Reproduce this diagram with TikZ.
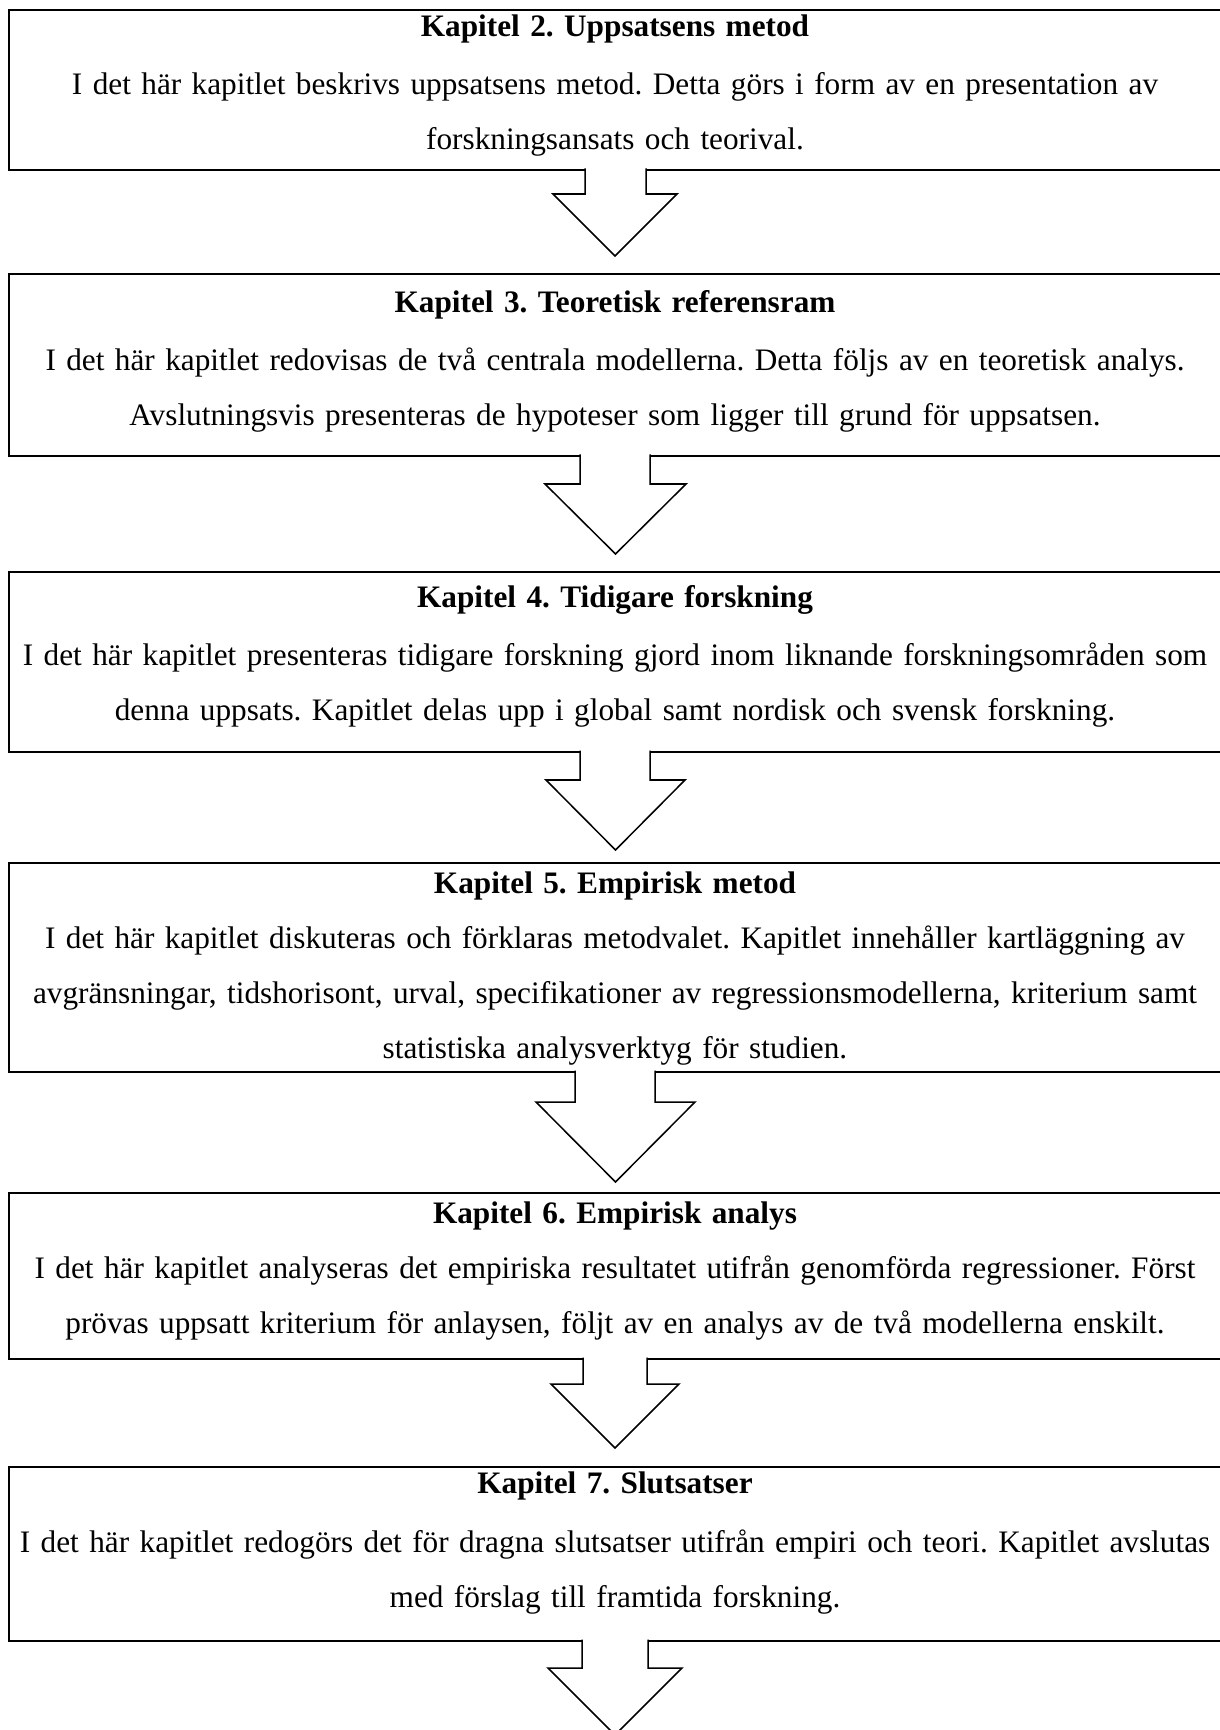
\documentclass[tikz,border=0pt]{standalone}
\usepackage{fontspec}
\setmainfont{Liberation Serif}
\frenchspacing
\newcommand{\pxu}{0.4286pt}

\begin{document}
\begin{tikzpicture}[x=\pxu, y=-\pxu,
      kbox/.style={draw, line width=0.9pt, anchor=north west, inner sep=0pt,
        outer sep=0pt, minimum width=1240*\pxu},
      ktext/.style={anchor=base, text width=560pt, align=center, inner sep=0pt,
        font=\fontsize{13.4pt}{23.6pt}\selectfont},
      karrow/.style={draw, fill=white, line width=0.65pt, line join=miter}]
      \fill[white] (0,0) rectangle (1220,1730);
      \clip (0,0) rectangle (1220,1730);
      % Chapter boxes
      \node[kbox, minimum height=160*\pxu] (k2) at (9,10) {};
      \node[kbox, minimum height=182*\pxu] (k3) at (9,274) {};
      \node[kbox, minimum height=180*\pxu] (k4) at (9,572) {};
      \node[kbox, minimum height=209*\pxu] (k5) at (9,863) {};
      \node[kbox, minimum height=166*\pxu] (k6) at (9,1193) {};
      \node[kbox, minimum height=174*\pxu] (k7) at (9,1467) {};
      % Texts
      \node[ktext] (t2) at (615,37) {\textbf{Kapitel 2. Uppsatsens metod}\\[1pt]
        I det här kapitlet beskrivs uppsatsens metod. Detta görs i form av en presentation av\\
        forskningsansats och teorival.};
      \node[ktext] (t3) at (615,313) {\textbf{Kapitel 3. Teoretisk referensram}\\[1pt]
        I det här kapitlet redovisas de två centrala modellerna. Detta följs av en teoretisk analys.\\
        Avslutningsvis presenteras de hypoteser som ligger till grund för uppsatsen.};
      \node[ktext] (t4) at (615,608) {\textbf{Kapitel 4. Tidigare forskning}\\[1pt]
        I det här kapitlet presenteras tidigare forskning gjord inom liknande forskningsområden som\\
        denna uppsats. Kapitlet delas upp i global samt nordisk och svensk forskning.};
      \node[ktext] (t5) at (615,893) {\textbf{Kapitel 5. Empirisk metod}\\
        I det här kapitlet diskuteras och förklaras metodvalet. Kapitlet innehåller kartläggning av\\
        avgränsningar, tidshorisont, urval, specifikationer av regressionsmodellerna, kriterium samt\\
        statistiska analysverktyg för studien.};
      \node[ktext] (t6) at (615,1223) {\textbf{Kapitel 6. Empirisk analys}\\
        I det här kapitlet analyseras det empiriska resultatet utifrån genomförda regressioner. Först\\
        prövas uppsatt kriterium för anlaysen, följt av en analys av de två modellerna enskilt.};
      \node[ktext] (t7) at (615,1493) {\textbf{Kapitel 7. Slutsatser}\\[1.7pt]
        I det här kapitlet redogörs det för dragna slutsatser utifrån empiri och teori. Kapitlet avslutas\\
        med förslag till framtida forskning.};
      % Block arrows below each box
      \foreach \k/\sl/\sr/\wl/\wr/\sh/\hh in {2/585/646/553/677/24/62,
          3/580/650/545/686/28/70, 4/580/650/546/685/28/70,
          5/575/655/536/695/30/80, 6/583/647/551/679/25/64,
          7/582/648/548/682/27/67}
        \draw[karrow] (\sl,0 |- k\k.south) ++(0,-1.5) -- ++(0,\sh+1.5)
          -- ++(\wl-\sl,0) -- ++({(\wr-\wl)/2},\hh) -- ++({(\wr-\wl)/2},-\hh)
          -- ++(\sr-\wr,0) -- ++(0,-\sh-1.5);
    \end{tikzpicture}
\end{document}
